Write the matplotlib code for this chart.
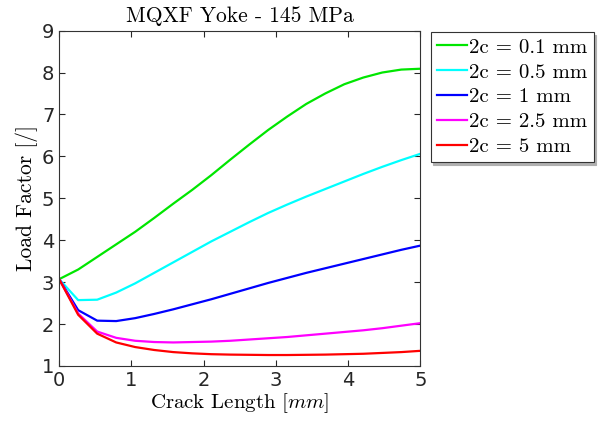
import matplotlib
matplotlib.use("Agg")
import matplotlib.pyplot as plt
import numpy as np

plt.rcParams["mathtext.fontset"] = "cm"

# crack depth sampled at 20 points between 0 and 5 mm
crack_length = np.linspace(0, 5, 20)

lf_01 = [3.07, 3.30, 3.60, 3.90, 4.20, 4.53, 4.87, 5.20, 5.55, 5.92, 6.28, 6.63, 6.95, 7.25, 7.50, 7.72, 7.88, 8.00, 8.07, 8.09]
lf_05 = [3.07, 2.57, 2.58, 2.75, 2.97, 3.22, 3.47, 3.72, 3.97, 4.20, 4.43, 4.65, 4.85, 5.04, 5.22, 5.40, 5.58, 5.75, 5.91, 6.06]
lf_1 = [3.07, 2.33, 2.08, 2.07, 2.14, 2.24, 2.35, 2.47, 2.59, 2.72, 2.85, 2.98, 3.10, 3.22, 3.33, 3.44, 3.55, 3.66, 3.77, 3.87]
lf_25 = [3.07, 2.25, 1.82, 1.67, 1.60, 1.57, 1.56, 1.57, 1.58, 1.60, 1.63, 1.66, 1.69, 1.73, 1.77, 1.81, 1.85, 1.90, 1.96, 2.02]
lf_5 = [3.07, 2.22, 1.77, 1.56, 1.45, 1.38, 1.33, 1.30, 1.28, 1.27, 1.265, 1.26, 1.26, 1.265, 1.27, 1.28, 1.29, 1.31, 1.33, 1.36]

series = [lf_01, lf_05, lf_1, lf_25, lf_5]
labels = ["2c = 0.1 mm", "2c = 0.5 mm", "2c = 1 mm", "2c = 2.5 mm", "2c = 5 mm"]
colors = ["#00e600", "#00ffff", "#0000ff", "#ff00ff", "#ff0000"]

serif = "cmr10"

fig = plt.figure(figsize=(6.1, 4.25), dpi=100)
ax = fig.add_axes([0.097, 0.139, 0.592, 0.789])

for vals, lab, c in zip(series, labels, colors):
    ax.plot(crack_length, vals, color=c, lw=1.6, label=lab)

ax.set_xlim(0, 5)
ax.set_ylim(1, 9)
ax.set_xticks([0, 1, 2, 3, 4, 5])
ax.set_yticks(range(1, 10))
ax.tick_params(direction="in", labelsize=14, colors="#262626", length=4,
               top=True, right=True, labeltop=False, labelright=False)
for s in ax.spines.values():
    s.set_color("#333333")
    s.set_linewidth(0.8)

ax.set_title("MQXF Yoke - 145 MPa", fontsize=15.5, fontname=serif, pad=6.5)
ax.set_xlabel("Crack Length [$mm$]", fontsize=15, fontname=serif, labelpad=1)
ax.set_ylabel("Load Factor [/]", fontsize=15.5, fontname=serif, labelpad=3)

leg = ax.legend(loc="upper left", bbox_to_anchor=(0.706, 0.925),
                bbox_transform=fig.transFigure, frameon=True,
                prop={"family": serif, "size": 15},
                fancybox=False, shadow={"color": "#b0b0b0", "alpha": 1},
                handlelength=1.45, handletextpad=0.1,
                labelspacing=0.3, borderpad=0.3, borderaxespad=0)
leg.get_frame().set_edgecolor("#333333")
leg.get_frame().set_linewidth(0.8)

fig.savefig("out.png", dpi=100)
